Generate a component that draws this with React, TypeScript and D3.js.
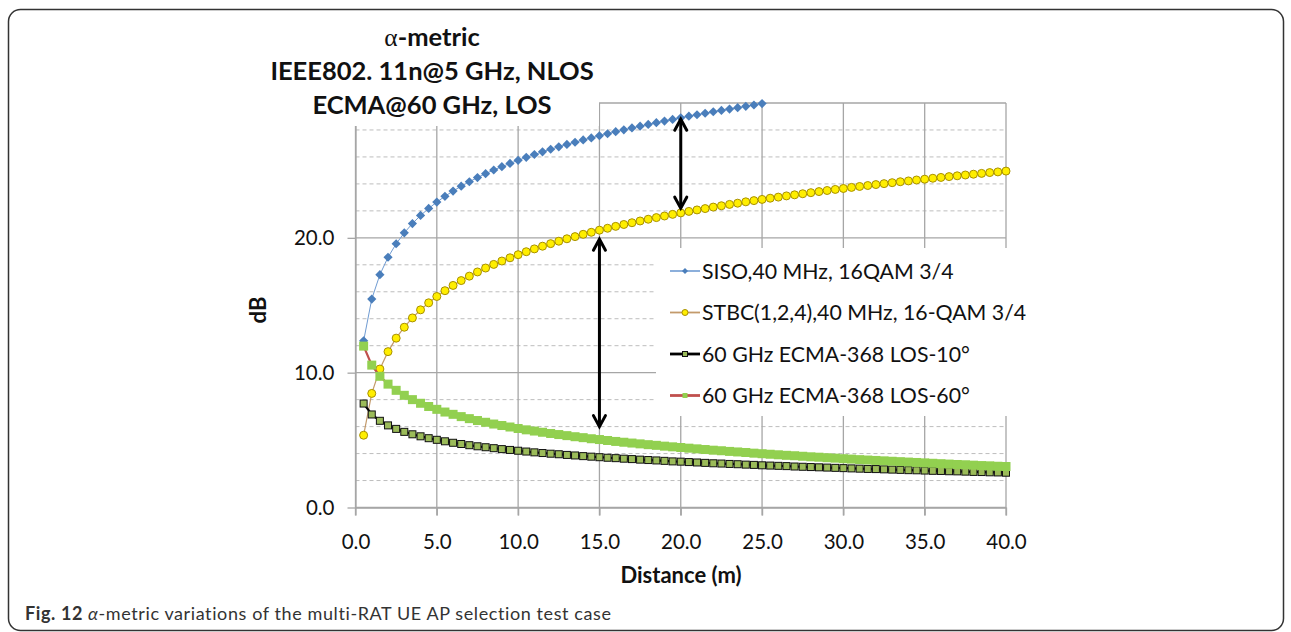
import React, { useEffect, useRef } from 'react';
import * as d3 from 'd3';

// distance (m), one point every 0.5 m
const distance = [
  0.5, 1, 1.5, 2, 2.5, 3, 3.5, 4, 4.5, 5,
  5.5, 6, 6.5, 7, 7.5, 8, 8.5, 9, 9.5, 10,
  10.5, 11, 11.5, 12, 12.5, 13, 13.5, 14, 14.5, 15,
  15.5, 16, 16.5, 17, 17.5, 18, 18.5, 19, 19.5, 20,
  20.5, 21, 21.5, 22, 22.5, 23, 23.5, 24, 24.5, 25,
  25.5, 26, 26.5, 27, 27.5, 28, 28.5, 29, 29.5, 30,
  30.5, 31, 31.5, 32, 32.5, 33, 33.5, 34, 34.5, 35,
  35.5, 36, 36.5, 37, 37.5, 38, 38.5, 39, 39.5, 40,
];

const siso = [
  12.36, 15.46, 17.27, 18.56, 19.56, 20.37, 21.06, 21.66, 22.18, 22.65,
  23.08, 23.47, 23.83, 24.16, 24.47, 24.76, 25.03, 25.28, 25.52, 25.75,
  25.97, 26.18, 26.38, 26.57, 26.75, 26.93, 27.09, 27.26, 27.41, 27.57,
  27.72, 27.87, 28.01, 28.15, 28.28, 28.41, 28.54, 28.66, 28.78, 28.90,
  29.02, 29.13, 29.24, 29.35, 29.45, 29.55, 29.65, 29.75, 29.85, 29.96,
  30.06, 30.14, 30.23, 30.31, 30.39, 30.47, 30.55, 30.63, 30.71, 30.78,
  30.86, 30.93, 31.00, 31.07, 31.14, 31.21, 31.28, 31.34, 31.41, 31.47,
  31.54, 31.60, 31.66, 31.72, 31.78, 31.84, 31.90, 31.96, 32.01, 32.07,
];

const stbc = [
  5.36, 8.46, 10.27, 11.56, 12.56, 13.37, 14.06, 14.66, 15.18, 15.65,
  16.08, 16.47, 16.83, 17.16, 17.47, 17.76, 18.03, 18.28, 18.52, 18.75,
  18.97, 19.18, 19.38, 19.57, 19.75, 19.93, 20.09, 20.26, 20.41, 20.57,
  20.71, 20.85, 20.99, 21.12, 21.25, 21.38, 21.50, 21.62, 21.74, 21.85,
  21.96, 22.07, 22.17, 22.28, 22.38, 22.48, 22.57, 22.67, 22.76, 22.85,
  22.94, 23.02, 23.11, 23.19, 23.27, 23.35, 23.43, 23.51, 23.59, 23.66,
  23.74, 23.81, 23.88, 23.95, 24.02, 24.09, 24.16, 24.22, 24.29, 24.35,
  24.42, 24.48, 24.54, 24.60, 24.66, 24.72, 24.78, 24.84, 24.89, 24.95,
];

const los10 = [
  7.71, 6.90, 6.43, 6.09, 5.83, 5.61, 5.43, 5.28, 5.14, 5.02,
  4.91, 4.80, 4.71, 4.62, 4.54, 4.47, 4.40, 4.33, 4.27, 4.21,
  4.15, 4.09, 4.04, 3.99, 3.95, 3.90, 3.86, 3.81, 3.77, 3.73,
  3.69, 3.66, 3.62, 3.59, 3.55, 3.52, 3.49, 3.46, 3.42, 3.40,
  3.37, 3.34, 3.31, 3.28, 3.26, 3.23, 3.21, 3.18, 3.16, 3.13,
  3.11, 3.09, 3.07, 3.04, 3.02, 3.00, 2.98, 2.96, 2.94, 2.92,
  2.90, 2.88, 2.86, 2.85, 2.83, 2.81, 2.79, 2.77, 2.76, 2.74,
  2.72, 2.71, 2.69, 2.68, 2.66, 2.64, 2.63, 2.61, 2.60, 2.58,
];

const los60 = [
  11.97, 10.56, 9.73, 9.15, 8.69, 8.32, 8.00, 7.73, 7.49, 7.28,
  7.08, 6.91, 6.74, 6.59, 6.45, 6.32, 6.19, 6.08, 5.97, 5.86,
  5.76, 5.67, 5.58, 5.49, 5.41, 5.33, 5.25, 5.18, 5.10, 5.04,
  4.97, 4.90, 4.84, 4.78, 4.72, 4.66, 4.61, 4.55, 4.50, 4.45,
  4.40, 4.35, 4.30, 4.25, 4.21, 4.16, 4.12, 4.08, 4.03, 3.99,
  3.95, 3.91, 3.87, 3.84, 3.80, 3.76, 3.73, 3.69, 3.66, 3.62,
  3.59, 3.55, 3.52, 3.49, 3.46, 3.43, 3.40, 3.37, 3.34, 3.31,
  3.28, 3.25, 3.22, 3.19, 3.17, 3.14, 3.11, 3.09, 3.06, 3.04,
];

const seriesNames = [
  'SISO,40 MHz, 16QAM 3/4',
  'STBC(1,2,4),40 MHz, 16-QAM 3/4',
  '60 GHz ECMA-368 LOS-10°',
  '60 GHz ECMA-368 LOS-60°',
];

const xTicks = [0, 5, 10, 15, 20, 25, 30, 35, 40];
const yTicks = [0, 10, 20, 30];
const yLabelled = [0, 10, 20];
const yMinor = [2, 4, 6, 8, 12, 14, 16, 18, 22, 24, 26, 28];

// double arrows: distance, upper end, lower end (dB)
const arrowX = [20, 15];
const arrowTop = [28.8, 19.9];
const arrowBottom = [22.2, 6.0];

const titleLines = ['-metric', 'IEEE802. 11n@5 GHz, NLOS', 'ECMA@60 GHz, LOS'];

const FONT = "Lato, 'Noto Sans', sans-serif";

const styles = [
  { line: '#6f9bd2', lw: 1, marker: 'diamond', fill: '#4a7ebb', stroke: 'none', size: 4.6 },
  { line: '#c39a6b', lw: 1.2, marker: 'circle', fill: '#ffee00', stroke: '#a89000', size: 4 },
  { line: '#000000', lw: 2.2, marker: 'square', fill: '#9bbb59', stroke: '#111', size: 7 },
  { line: '#c0504d', lw: 2.2, marker: 'square', fill: '#92d050', stroke: 'none', size: 9 },
];

function drawMarker(g: any, type: string, size: number, fill: string, stroke: string) {
  if (type === 'circle') {
    g.append('circle').attr('r', size).attr('fill', fill).attr('stroke', stroke).attr('stroke-width', 1);
  } else if (type === 'square') {
    g.append('rect').attr('x', -size / 2).attr('y', -size / 2).attr('width', size).attr('height', size)
      .attr('fill', fill).attr('stroke', stroke).attr('stroke-width', 1);
  } else {
    g.append('path').attr('d', `M0,${-size}L${size},0L0,${size}L${-size},0Z`).attr('fill', fill);
  }
}

export default function App() {
  const ref = useRef<SVGSVGElement>(null);

  useEffect(() => {
    const svg = d3.select(ref.current);
    svg.selectAll('*').remove();

    const x = d3.scaleLinear().domain([0, 40]).range([355.5, 1006]);
    const y = d3.scaleLinear().domain([0, 30]).range([507.5, 103]);

    // figure frame
    svg.append('rect')
      .attr('x', 8.5).attr('y', 9.5).attr('width', 1275).attr('height', 621)
      .attr('rx', 12).attr('fill', 'white').attr('stroke', '#333').attr('stroke-width', 1.5);

    const grid = svg.append('g');
    grid.selectAll('.minor').data(yMinor).join('line')
      .attr('x1', x(0)).attr('x2', x(40))
      .attr('y1', d => y(d)).attr('y2', d => y(d))
      .attr('stroke', '#bdbdbd').attr('stroke-dasharray', '4,3');
    grid.selectAll('.major').data(yTicks).join('line')
      .attr('x1', x(0)).attr('x2', x(40))
      .attr('y1', d => y(d)).attr('y2', d => y(d))
      .attr('stroke', '#a6a6a6').attr('stroke-width', 1.3);
    grid.selectAll('.vert').data(xTicks).join('line')
      .attr('x1', d => x(d)).attr('x2', d => x(d))
      .attr('y1', y(30)).attr('y2', y(0) + 8)
      .attr('stroke', '#a6a6a6').attr('stroke-width', 1.3);

    // axes
    const xAxis = svg.append('g')
      .attr('transform', `translate(0,${y(0)})`)
      .call(d3.axisBottom(x).tickValues(xTicks).tickFormat(d3.format('.1f')).tickSize(8).tickPadding(19).tickSizeOuter(0));
    const yAxis = svg.append('g')
      .attr('transform', `translate(${x(0)},0)`)
      .call(d3.axisLeft(y).tickValues(yLabelled).tickFormat(d3.format('.1f')).tickSize(8).tickPadding(13).tickSizeOuter(0));
    [xAxis, yAxis].forEach(a => {
      a.select('.domain').attr('stroke', '#a6a6a6').attr('stroke-width', 1.3);
      a.selectAll('line').attr('stroke', '#a6a6a6').attr('stroke-width', 1.3);
      a.selectAll('text').attr('font-family', FONT).attr('font-size', 20.5).attr('fill', '#111');
    });

    // series
    const defs = svg.append('defs');
    defs.append('clipPath').attr('id', 'plotClip').append('rect')
      .attr('x', 0).attr('y', y(30)).attr('width', 1291).attr('height', 600);

    const allSeries = [siso, stbc, los10, los60];
    allSeries.forEach((vals, si) => {
      const st = styles[si];
      const pts = vals.map((v, i) => [distance[i], v] as [number, number]);
      const line = d3.line<[number, number]>().x(d => x(d[0])).y(d => y(d[1]));
      svg.append('path')
        .attr('d', line(pts))
        .attr('fill', 'none')
        .attr('stroke', st.line)
        .attr('stroke-width', st.lw)
        .attr('clip-path', 'url(#plotClip)');
      pts.filter(p => p[1] <= 30).forEach(p => {
        const m = svg.append('g').attr('transform', `translate(${x(p[0])},${y(p[1])})`);
        drawMarker(m, st.marker, st.size, st.fill, st.stroke);
      });
    });

    // arrows
    arrowX.forEach((ax, i) => {
      const px = x(ax);
      const t = y(arrowTop[i]);
      const b = y(arrowBottom[i]);
      const a = svg.append('g').attr('stroke', '#000').attr('stroke-width', 3).attr('fill', 'none')
        .attr('stroke-linecap', 'round');
      a.append('line').attr('x1', px).attr('x2', px).attr('y1', t + 1).attr('y2', b - 1);
      a.append('path').attr('d', `M${px - 6},${t + 11}L${px},${t}L${px + 6},${t + 11}`);
      a.append('path').attr('d', `M${px - 6},${b - 11}L${px},${b}L${px + 6},${b - 11}`);
    });

    // legend
    const lg = svg.append('g');
    lg.append('rect').attr('x', 656).attr('y', 248).attr('width', 376).attr('height', 168).attr('fill', 'white');
    seriesNames.forEach((name, i) => {
      const st = styles[i];
      const cy = 271 + i * 41.5;
      lg.append('line').attr('x1', 670).attr('x2', 700).attr('y1', cy).attr('y2', cy)
        .attr('stroke', st.line).attr('stroke-width', st.lw + 0.6);
      const m = lg.append('g').attr('transform', `translate(685,${cy})`);
      drawMarker(m, st.marker, st.marker === 'circle' ? 3 : st.marker === 'diamond' ? 3 : 5, st.fill, st.stroke);
      lg.append('text').attr('x', 702).attr('y', cy).attr('dy', '0.36em')
        .attr('font-family', FONT).attr('font-size', 21.3).attr('fill', '#111').text(name);
    });

    // title box
    svg.append('rect').attr('x', 250).attr('y', 14).attr('width', 349).attr('height', 112).attr('fill', 'white');
    const title = svg.append('g').attr('font-family', FONT).attr('font-weight', 'bold')
      .attr('font-size', 25.5).attr('fill', '#111').attr('text-anchor', 'middle');
    const t1 = title.append('text').attr('x', 432).attr('y', 46);
    t1.append('tspan').attr('font-family', "'Liberation Serif', serif").attr('font-weight', 'normal').text('α');
    t1.append('tspan').text(titleLines[0]);
    title.append('text').attr('x', 432).attr('y', 80).text(titleLines[1]);
    title.append('text').attr('x', 432).attr('y', 114).text(titleLines[2]);

    // axis titles
    svg.append('text').attr('x', 681).attr('y', 583).attr('text-anchor', 'middle')
      .attr('font-family', FONT).attr('font-weight', 'bold').attr('font-size', 22).attr('fill', '#111')
      .text('Distance (m)');
    svg.append('text').attr('transform', 'translate(266,310) rotate(-90)').attr('text-anchor', 'middle')
      .attr('font-family', FONT).attr('font-weight', 'bold').attr('font-size', 22).attr('fill', '#111')
      .text('dB');

    // caption
    const cap = svg.append('text').attr('x', 25).attr('y', 620)
      .attr('font-family', FONT).attr('font-size', 18).attr('letter-spacing', 0.6).attr('fill', '#333');
    cap.append('tspan').attr('font-weight', 'bold').text('Fig. 12 ');
    cap.append('tspan').attr('font-style', 'italic').text('α');
    cap.append('tspan').text('-metric variations of the multi-RAT UE AP selection test case');
  }, []);

  return (
    <svg ref={ref} width={1291} height={632} style={{ position: 'absolute', left: 0, top: 0 }} />
  );
}
